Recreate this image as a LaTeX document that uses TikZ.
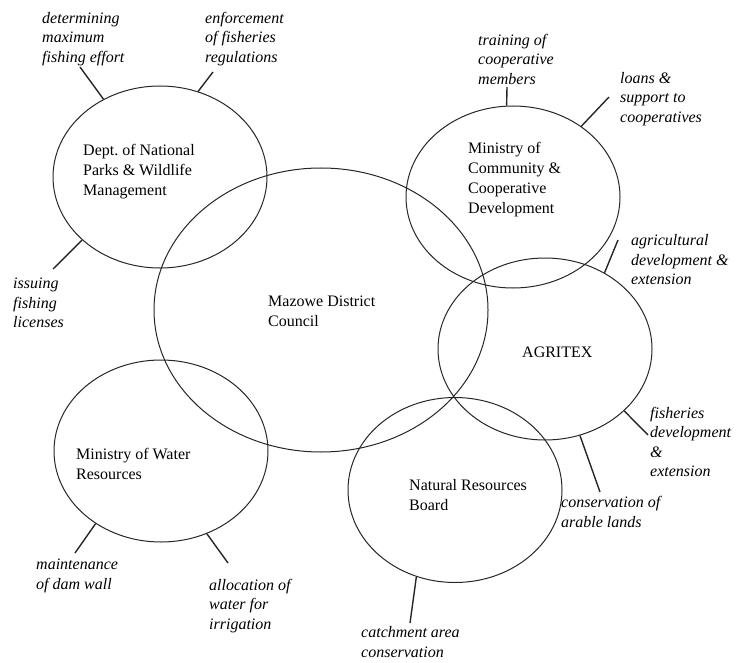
\documentclass[tikz,border=0pt]{standalone}
\usepackage{fontspec}
\setmainfont{Liberation Serif}
\usetikzlibrary{shapes.geometric}

\begin{document}
\begin{tikzpicture}[x=1pt,y=-1pt,
    agency/.style={draw=black!85, line width=1pt, ellipse, inner sep=0pt,
      minimum width=214pt, minimum height=182pt},
    org/.style={anchor=west, align=left, inner sep=0pt,
      font=\fontsize{16}{20}\selectfont},
    duty/.style={anchor=west, align=left, inner sep=0pt,
      font=\fontsize{16}{19.5}\selectfont\itshape},
    tick/.style={line width=1.4pt, black!85}]
  \useasboundingbox (0,0) rectangle (738,663);
  \node[agency] (parks) at (160,177) {};
  \node[agency, minimum width=334pt, minimum height=284pt] (council) at (321,310) {};
  \node[agency] (coop) at (513,197) {};
  \node[agency] (agritex) at (545,349) {};
  \node[agency, minimum height=185pt] (nrb) at (455,490) {};
  \node[agency] (water) at (161,451) {};
  \node[org] (parkstxt) at (83,172) {Dept.\ of National\\Parks \& Wildlife\\Management};
  \node[org] (counciltxt) at (268,311) {Mazowe District\\Council};
  \node[org] (cooptxt) at (468,180) {Ministry of\\Community \&\\Cooperative\\Development};
  \node[org] (agritextxt) at (522,352) {AGRITEX};
  \node[org] (nrbtxt) at (409,495) {Natural Resources\\Board};
  \node[org] (watertxt) at (76,464) {Ministry of Water\\Resources};
  \node[duty] (effort) at (42,39) {determining\\maximum\\fishing effort};
  \node[duty] (enforce) at (205,39) {enforcement\\of fisheries\\regulations};
  \node[duty] (licence) at (13,303) {issuing\\fishing\\licenses};
  \node[duty] (training) at (478,59) {training of\\cooperative\\members};
  \node[duty] (loans) at (620,99) {loans \&\\support to\\cooperatives};
  \node[duty] (agri) at (631,260) {agricultural\\development \&\\extension};
  \node[duty] (fishdev) at (650,442) {fisheries\\development\\\&\\extension};
  \node[duty] (arable) at (561,512) {conservation of\\arable lands};
  \node[duty] (catchment) at (361,642) {catchment area\\conservation};
  \node[duty] (damwall) at (36,576) {maintenance\\of dam wall};
  \node[duty] (irrigation) at (209,606) {allocation of\\water for\\irrigation};
  \coordinate (effortend) at (80,67);
  \coordinate (enforceend) at (213,72);
  \coordinate (licenceend) at (53,269);
  \coordinate (trainingend) at (507,87);
  \coordinate (loansend) at (609,97);
  \coordinate (agriend) at (618,240);
  \coordinate (fishdevend) at (648,435);
  \coordinate (arableend) at (600,492);
  \coordinate (catchmentend) at (410,623);
  \coordinate (damwallend) at (75,553);
  \coordinate (irrigationend) at (228,563);
  \draw[tick] (parks.126) -- (effortend);
  \draw[tick] (parks.66) -- (enforceend);
  \draw[tick] (parks.219) -- (licenceend);
  \draw[tick] (coop.94) -- (trainingend);
  \draw[tick] (coop.46) -- (loansend);
  \draw[tick] (agritex.52) -- (agriend);
  \draw[tick] (agritex.-38) -- (fishdevend);
  \draw[tick] (agritex.-68) -- (arableend);
  \draw[tick] (nrb.246) -- (catchmentend);
  \draw[tick] (water.228) -- (damwallend);
  \draw[tick] (water.299) -- (irrigationend);
\end{tikzpicture}
\end{document}
